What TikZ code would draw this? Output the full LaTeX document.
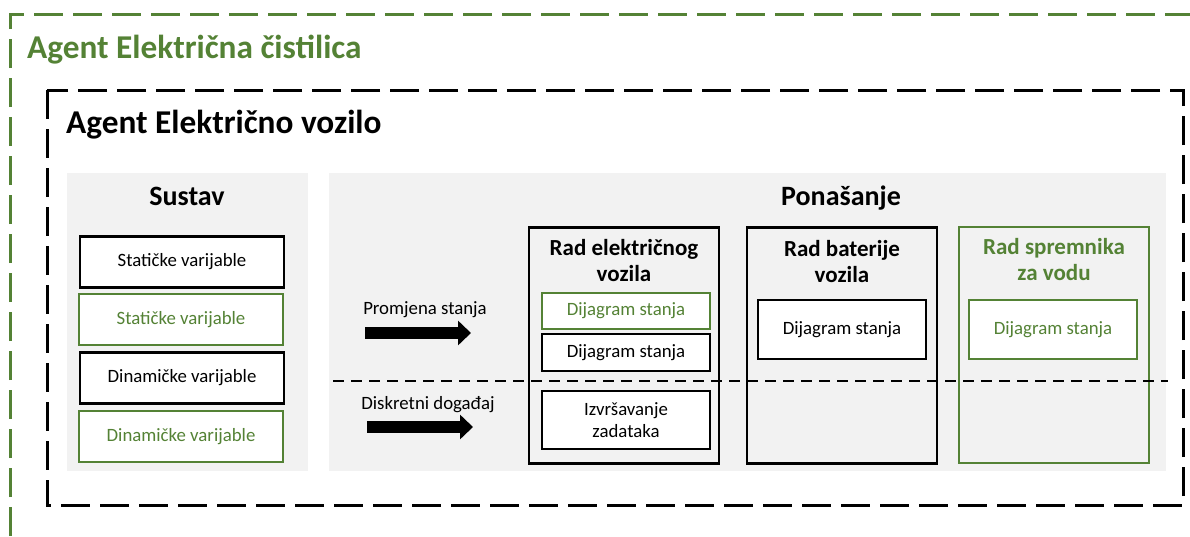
\documentclass[tikz,border=0pt]{standalone}
\usepackage{fontspec}
\setmainfont{Carlito}
\usetikzlibrary{arrows.meta}
\definecolor{agentgreen}{HTML}{548235}
\definecolor{panelgray}{HTML}{F2F2F2}

\begin{document}
\begin{tikzpicture}[x=1pt,y=-1pt,
  every node/.style={inner sep=0pt},
  agentline/.style={line width=3pt,dash pattern=on 29pt off 10pt},
  agenttitle/.style={anchor=base west,font=\bfseries\fontsize{33.3}{40}\selectfont},
  panel/.style={fill=panelgray},
  paneltitle/.style={anchor=base,font=\bfseries\fontsize{28}{34}\selectfont},
  varbox/.style={draw,line width=2.5pt,fill=white,minimum width=204pt,minimum height=51pt,font=\fontsize{18.8}{22}\selectfont},
  greenbox/.style={draw=agentgreen,text=agentgreen,line width=2pt},
  radbox/.style={draw,line width=2.5pt,minimum width=190pt,minimum height=236pt},
  radtitle/.style={anchor=base,align=center,font=\bfseries\fontsize{23}{26}\selectfont},
  diagbox/.style={draw,line width=2.5pt,fill=white,minimum width=168pt,align=center,font=\fontsize{18.8}{22}\selectfont},
  eventlabel/.style={font=\fontsize{18.8}{22}\selectfont},
  eventarrow/.style={line width=12pt,-{Triangle[length=13pt,width=24pt]}}
]
\useasboundingbox (0,0) rectangle (1190,536);
\draw[agentline,agentgreen] (10,536) -- (10,14) -- (1190,14);
\draw[agentline] (47,90) rectangle (1183,505);
\node[agenttitle,text=agentgreen] (cistilica) at (27,58) {Agent Električna čistilica};
\node[agenttitle] (vozilo) at (66,133) {Agent Električno vozilo};

\fill[panel] (67,173) rectangle (308,471);
\fill[panel] (329,173) rectangle (1166,471);
\node[paneltitle] (sustav) at (187,205) {Sustav};
\node[paneltitle] (ponasanje) at (841,205) {Ponašanje};

\node[varbox] (staticke) at (182,262) {Statičke varijable};
\node[varbox,greenbox] (statickeg) at (181,319.5) {Statičke varijable};
\node[varbox] (dinamicke) at (182,378) {Dinamičke varijable};
\node[varbox,greenbox] (dinamickeg) at (181,436.5) {Dinamičke varijable};

\node[radbox] (radvozila) at (624,345.5) {};
\node[radtitle] (radvozilat) at (624,281) {Rad električnog\\vozila};
\node[diagbox,greenbox,minimum height=36pt] (dijagramvg) at (626,311) {Dijagram stanja};
\node[diagbox,minimum height=37pt] (dijagramv) at (626,352.5) {Dijagram stanja};
\node[diagbox,minimum height=58pt] (zadaci) at (626,420) {Izvršavanje\\zadataka};

\node[radbox] (radbaterije) at (842,345.5) {};
\node[radtitle] (radbaterijet) at (842,282) {Rad baterije\\vozila};
\node[diagbox,minimum height=59pt] (dijagramb) at (842,329.5) {Dijagram stanja};

\node[radbox,draw=agentgreen,line width=2pt] (radspremnika) at (1054,345) {};
\node[radtitle,text=agentgreen] (radspremnikat) at (1054,280) {Rad spremnika\\za vodu};
\node[diagbox,greenbox,minimum height=59pt] (dijagrams) at (1053,329.5) {Dijagram stanja};

\coordinate (granicaL) at (333,381);
\coordinate (granicaR) at (1168,381);
\draw[line width=2pt,dash pattern=on 11pt off 7pt] (granicaL) -- (granicaR);

\node[eventlabel] (promjena) at (425,310) {Promjena stanja};
\coordinate (promjenaS) at (365,333);
\coordinate (promjenaE) at (471,333);
\draw[eventarrow] (promjenaS) -- (promjenaE);
\node[eventlabel] (dogadaj) at (428,405) {Diskretni događaj};
\coordinate (dogadajS) at (367,427);
\coordinate (dogadajE) at (473,427);
\draw[eventarrow] (dogadajS) -- (dogadajE);
\end{tikzpicture}
\end{document}
